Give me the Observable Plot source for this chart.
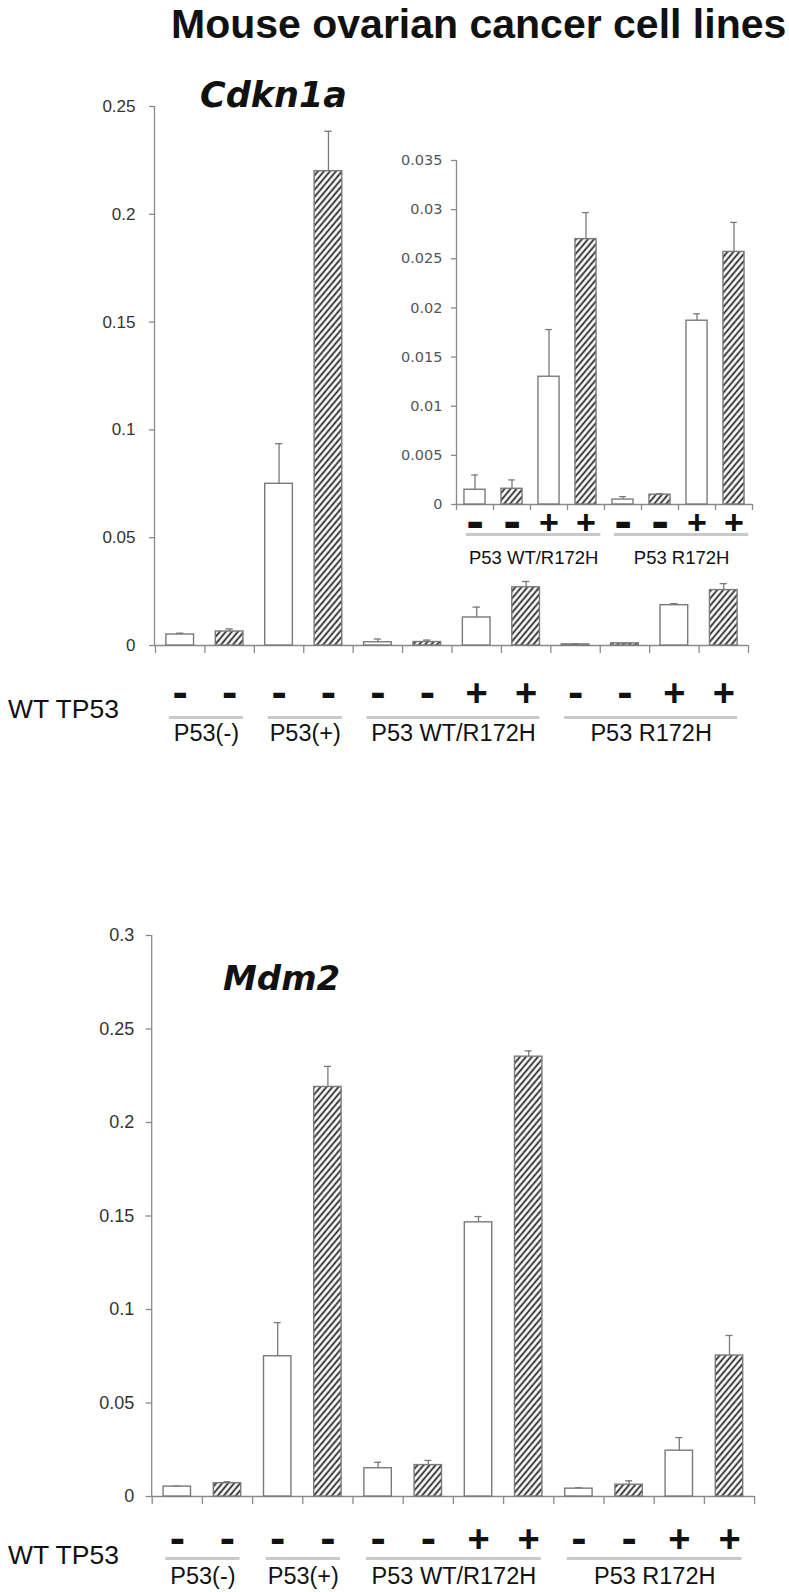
<!DOCTYPE html>
<html><head><meta charset="utf-8">
<script src="https://cdn.jsdelivr.net/npm/d3@7"></script>
<script src="https://cdn.jsdelivr.net/npm/@observablehq/plot@0.6"></script>
<style>
body{margin:0;background:#fff;}
#root{position:relative;width:789px;height:1592px;overflow:hidden;background:#fff;}
.abs{position:absolute;}
.plotbox{position:absolute;z-index:1;}
#title{left:171px;top:4px;font:bold 41px "Liberation Sans",Arial,sans-serif;line-height:1;white-space:nowrap;color:#111;z-index:3;}
.gene{font-family:"DejaVu Sans",sans-serif;font-weight:bold;font-style:italic;line-height:1;white-space:nowrap;color:#111;z-index:3;}
</style></head><body>
<svg width="0" height="0" style="position:absolute">
  <defs>
    <pattern id="hatch" patternUnits="userSpaceOnUse" width="4.6" height="4.6" patternTransform="rotate(40)">
      <rect width="4.6" height="4.6" fill="white"/>
      <line x1="2.3" y1="0" x2="2.3" y2="4.6" stroke="#1a1a1a" stroke-width="1.7"/>
    </pattern>
  </defs>
</svg>
<div id="root">
  <div id="title" class="abs">Mouse ovarian cancer cell lines</div>
  <div class="abs gene" style="left:200px;top:78px;font-size:35px">Cdkn1a</div>
  <div class="abs gene" style="left:223px;top:961px;font-size:34px">Mdm2</div>
</div>
<script>
// ---- data ----
const groups = ["P53(-)", "P53(+)", "P53 WT/R172H", "P53 R172H"];
const barGroup = [0,0,1,1,2,2,2,2,3,3,3,3];
const wtTP53  = [false,false,false,false,false,false,true,true,false,false,true,true];
const hatched = [false,true,false,true,false,true,false,true,false,true,false,true];
const cdkn1aMean = [0.0051,0.0065,0.075,0.220,0.0015,0.0016,0.0130,0.0270,0.0005,0.0010,0.0187,0.0257];
const cdkn1aErr  = [0.0006,0.0012,0.0186,0.0185,0.0015,0.0009,0.0048,0.0027,0.0003,0.0001,0.0007,0.0030];
const mdm2Mean = [0.0053,0.0071,0.075,0.219,0.0151,0.0168,0.1466,0.2352,0.0042,0.0063,0.0245,0.0754];
const mdm2Err  = [0.0002,0.0008,0.018,0.011,0.0032,0.0025,0.0031,0.0031,0.0005,0.0021,0.0070,0.0107];
const insetBars = [4,5,6,7,8,9,10,11];
const yTicksCdkn1a = [0,0.05,0.1,0.15,0.2,0.25];
const yTicksInset = [0,0.005,0.01,0.015,0.02,0.025,0.03,0.035];
const yTicksMdm2 = [0,0.05,0.1,0.15,0.2,0.25,0.3];
const wtLabel = "WT TP53";

const AX = "#8a8a8a", BAR = "#7a7a7a";

function rows(means, errs, ids) {
  return ids.map((k, j) => ({i: j, k, value: means[k], hi: means[k] + errs[k], hatched: hatched[k], wt: wtTP53[k]}));
}
function groupRows(rs) {
  return d3.groups(rs, d => barGroup[d.k]).map(([g, arr]) => ({name: groups[g], start: d3.min(arr, d => d.i), end: d3.max(arr, d => d.i)}));
}

function chart(o) {
  const rs = o.rows, gs = groupRows(rs), n = rs.length;
  const bounds = d3.range(n + 1).map(i => i - 0.5);
  const marks = [
    Plot.ruleY([0], {stroke: AX, strokeWidth: 1.3}),
    Plot.ruleX([-0.5], {y1: 0, y2: o.yDomain[1], stroke: AX, strokeWidth: 1.3, dx: o.axisDx}),
    Plot.rectY(rs.filter(d => !d.hatched), {x1: d => d.i - o.hw, x2: d => d.i + o.hw, y1: 0, y2: "value", fill: "white", stroke: BAR, strokeWidth: 1.4}),
    Plot.rectY(rs.filter(d => d.hatched), {x1: d => d.i - o.hw, x2: d => d.i + o.hw, y1: 0, y2: "value", fill: "url(#hatch)", stroke: BAR, strokeWidth: 1.4}),
    Plot.ruleX(rs, {x: "i", y1: "value", y2: "hi", stroke: BAR, strokeWidth: 1.3}),
    Plot.ruleY(rs, {x1: d => d.i - o.cap, x2: d => d.i + o.cap, y: "hi", stroke: BAR, strokeWidth: 1.3}),
    Plot.text(rs.filter(d => !d.wt), {x: "i", y: 0, dy: o.dyPM, text: () => "-", fontFamily: "DejaVu Sans", fontWeight: "bold", fontSize: o.minusSize, fill: "#111", lineAnchor: "middle"}),
    Plot.text(rs.filter(d => d.wt), {x: "i", y: 0, dy: o.dyPM, text: () => "+", fontFamily: "Liberation Sans", fontWeight: "bold", fontSize: o.plusSize, fill: "#111", lineAnchor: "middle"}),
    Plot.ruleY(gs, {x1: d => d.start - 0.5 + o.lineInL, x2: d => d.end + 0.5 - o.lineInR, y: 0, dy: o.dyLine, stroke: "#c9c9c9", strokeWidth: 3}),
    Plot.text(gs, {x: d => (d.start + d.end) / 2 + (o.lineInL - o.lineInR) / 2, y: 0, dy: o.dyLabel, text: "name", fontFamily: "Liberation Sans", fontSize: o.labelSize, fill: "#111", lineAnchor: "bottom"})
  ];
  if (o.wt) marks.push(Plot.text([wtLabel], {frameAnchor: "bottom-left", dx: o.wtDx, dy: o.wtDy, text: d => d, textAnchor: "start", fontFamily: "Liberation Sans", fontSize: o.wtSize, fill: "#111", lineAnchor: "middle"}));
  const svg = Plot.plot({
    width: o.width, height: o.height,
    marginTop: o.mt, marginBottom: o.mb, marginLeft: o.ml, marginRight: o.mr,
    x: {domain: [-0.5, n - 0.5], ticks: bounds, tickSize: o.xTickSize, tickFormat: () => "", label: null},
    y: {domain: o.yDomain, ticks: o.yTicks, tickSize: o.yTickSize, tickPadding: o.tickPad, tickFormat: d => String(d), label: null},
    style: {fontFamily: o.tickFont, fontSize: o.tickFontSize + "px", color: o.tickColor, background: "transparent", overflow: "visible"},
    marks
  });
  d3.select(svg).selectAll('g[aria-label="y-axis tick"], g[aria-label="x-axis tick"]').attr("stroke", AX).attr("stroke-width", 1.3);
  const box = document.createElement("div");
  box.className = "plotbox";
  box.style.left = o.left + "px";
  box.style.top = o.top + "px";
  box.appendChild(svg);
  document.getElementById("root").appendChild(box);
}

const sans = '"Liberation Sans", Arial, sans-serif';

chart({
  rows: rows(cdkn1aMean, cdkn1aErr, d3.range(12)),
  left: 0, top: 60, width: 789, height: 700, mt: 46, mb: 115, ml: 155, mr: 41,
  yDomain: [0, 0.25], yTicks: yTicksCdkn1a, hw: 0.28, cap: 0.075, axisDx: -1,
  dyPM: 48, minusSize: 38, plusSize: 38, dyLine: 72, lineInL: 0.28, lineInR: 0.22,
  dyLabel: 95, labelSize: 23.5, wt: true, wtDx: -147.5, wtDy: 64, wtSize: 26.5,
  tickFont: sans, tickFontSize: 17, tickColor: "#333", yTickSize: 6, tickPad: 14, xTickSize: 8
});

chart({
  rows: rows(cdkn1aMean, cdkn1aErr, insetBars),
  left: 380, top: 140, width: 400, height: 434, mt: 20, mb: 70, ml: 76, mr: 28,
  yDomain: [0, 0.035], yTicks: yTicksInset, hw: 0.285, cap: 0.09, axisDx: 0,
  dyPM: 19, minusSize: 44, plusSize: 34, dyLine: 30, lineInL: 0.27, lineInR: 0.1,
  dyLabel: 59, labelSize: 18.5, wt: false,
  tickFont: '"DejaVu Sans", sans-serif', tickFontSize: 14.5, tickColor: "#555", yTickSize: 5, tickPad: 9, xTickSize: 6
});

chart({
  rows: rows(mdm2Mean, mdm2Err, d3.range(12)),
  left: 0, top: 900, width: 789, height: 688, mt: 35, mb: 92, ml: 151.7, mr: 34.9,
  yDomain: [0, 0.3], yTicks: yTicksMdm2, hw: 0.273, cap: 0.07, axisDx: -0.5,
  dyPM: 43.5, minusSize: 38, plusSize: 38, dyLine: 62, lineInL: 0.27, lineInR: 0.25,
  dyLabel: 87, labelSize: 23.5, wt: true, wtDx: -144.2, wtDy: 59, wtSize: 26.5,
  tickFont: sans, tickFontSize: 18, tickColor: "#333", yTickSize: 6, tickPad: 12, xTickSize: 8
});
</script>
</body></html>
